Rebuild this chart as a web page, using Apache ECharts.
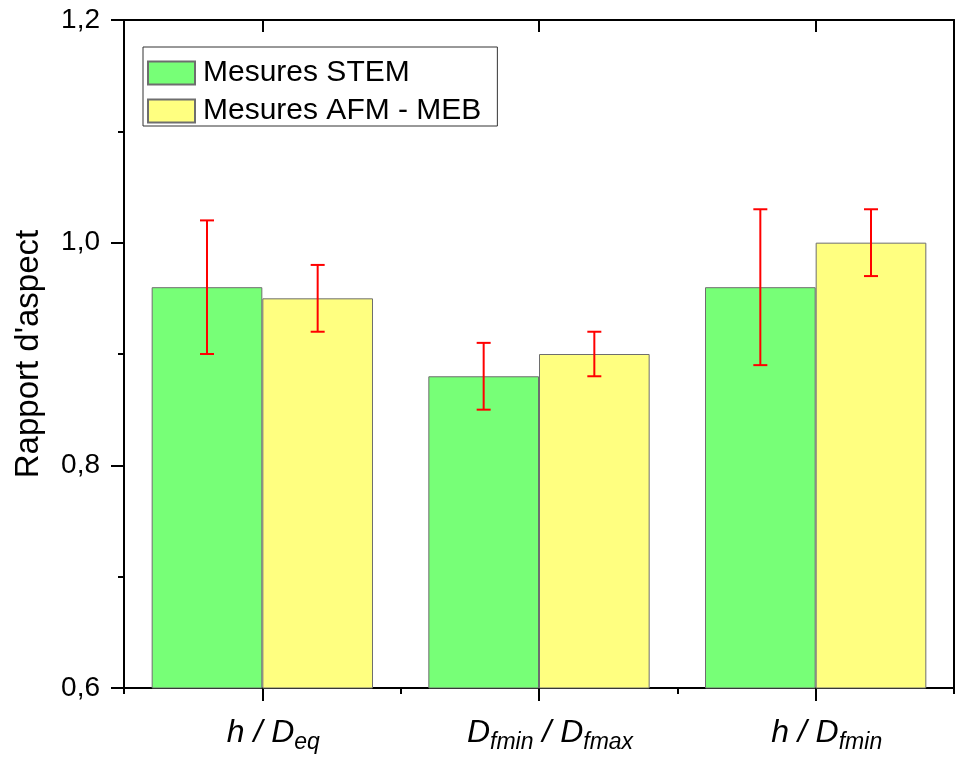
<!DOCTYPE html>
<html>
<head>
<meta charset="utf-8">
<script src="https://cdn.jsdelivr.net/npm/echarts@6/dist/echarts.min.js"></script>
<style>html,body{margin:0;padding:0;background:#fff}#c{width:955px;height:763px}</style>
</head>
<body>
<div id="c"></div>
<script>
const categories = ['h / Deq', 'Dfmin / Dfmax', 'h / Dfmin'];
const seriesNames = ['Mesures STEM', 'Mesures AFM - MEB'];
const stemValues = [0.96, 0.88, 0.96];
const stemLow = [0.90, 0.85, 0.89];
const stemHigh = [1.02, 0.91, 1.03];
const afmValues = [0.95, 0.90, 1.00];
const afmLow = [0.92, 0.88, 0.97];
const afmHigh = [0.98, 0.92, 1.03];
const yTicks = [0.6, 0.8, 1.0, 1.2];

const labelRich = {
  'h / Deq': '{m|h / D}{s|eq}',
  'Dfmin / Dfmax': '{m|D}{s|fmin}{m| / D}{s|fmax}',
  'h / Dfmin': '{m|h / D}{s|fmin}'
};

const FONT = '"Liberation Sans", Arial, sans-serif';
const chart = echarts.init(document.getElementById('c'), null, {renderer: 'canvas'});

function errData(low, high) {
  return categories.map((c, i) => [i, low[i], high[i]]);
}
function errRender(offsetFrac) {
  return function (params, api) {
    const i = api.value(0);
    const band = api.size([1, 0])[0];
    const p1 = api.coord([i, api.value(1)]);
    const p2 = api.coord([i, api.value(2)]);
    const x = p1[0] + offsetFrac * band;
    const cap = 7;
    const style = {stroke: '#ff0000', lineWidth: 2};
    return {
      type: 'group',
      children: [
        {type: 'line', shape: {x1: x, y1: p1[1], x2: x, y2: p2[1]}, style},
        {type: 'line', shape: {x1: x - cap, y1: p1[1], x2: x + cap, y2: p1[1]}, style},
        {type: 'line', shape: {x1: x - cap, y1: p2[1], x2: x + cap, y2: p2[1]}, style}
      ]
    };
  };
}

const option = {
  animation: false,
  backgroundColor: '#fff',
  textStyle: {fontFamily: FONT},
  grid: {left: 124, right: 1, top: 20, bottom: 75, containLabel: false},
  legend: {
    left: 143, top: 47,
    orient: 'vertical',
    data: seriesNames,
    itemWidth: 47, itemHeight: 23, itemGap: 8,
    padding: [11, 16, 0, 4],
    borderColor: '#333', borderWidth: 1,
    backgroundColor: '#fff',
    icon: 'rect',
    textStyle: {fontSize: 30, lineHeight: 24, color: '#000', fontFamily: FONT, padding: [2, 0, 0, 3]}
  },
  xAxis: [
    {
      type: 'category', data: categories, position: 'bottom',
      axisLine: {show: true, lineStyle: {color: '#000', width: 2}},
      axisTick: {show: true, alignWithLabel: true, length: 13, lineStyle: {color: '#000', width: 2}},
      axisLabel: {
        show: true,
        margin: 25,
        padding: [0, 0, 0, 22],
        formatter: v => labelRich[v],
        rich: {
          m: {fontSize: 32, fontStyle: 'italic', color: '#000', fontFamily: FONT},
          s: {fontSize: 23, fontStyle: 'italic', color: '#000', fontFamily: FONT, padding: [18, 0, 0, 0]}
        }
      }
    },
    {
      type: 'category', data: categories, position: 'bottom',
      axisLine: {show: false},
      axisTick: {show: true, length: 6, lineStyle: {color: '#000', width: 2}},
      axisLabel: {show: false}
    },
    {
      type: 'category', data: categories, position: 'top',
      axisLine: {show: true, lineStyle: {color: '#000', width: 2}},
      axisTick: {show: true, alignWithLabel: true, inside: true, length: 12, lineStyle: {color: '#000', width: 2}},
      axisLabel: {show: false}
    }
  ],
  yAxis: [
    {
      type: 'value', min: yTicks[0], max: yTicks[yTicks.length - 1], interval: 0.2,
      name: "Rapport d'aspect", nameLocation: 'middle', nameGap: 79,
      nameTextStyle: {fontSize: 33, color: '#000', fontFamily: FONT},
      axisLine: {show: true, lineStyle: {color: '#000', width: 2}},
      axisTick: {show: true, inside: false, length: 13, lineStyle: {color: '#000', width: 2}},
      minorTick: {show: true, splitNumber: 2, length: 6, lineStyle: {color: '#000', width: 2}},
      splitLine: {show: false},
      axisLabel: {show: true, fontSize: 28, color: '#000', margin: 24, formatter: v => v.toFixed(1).replace('.', ',')}
    },
    {
      type: 'value', min: yTicks[0], max: yTicks[yTicks.length - 1], interval: 0.2, position: 'right',
      axisLine: {show: true, lineStyle: {color: '#000', width: 2}},
      axisTick: {show: false}, axisLabel: {show: false}, splitLine: {show: false}
    }
  ],
  series: [
    {
      name: seriesNames[0], type: 'bar', data: stemValues,
      barGap: '0%', barCategoryGap: '20%',
      itemStyle: {color: '#77ff77', borderColor: '#6e6e6e', borderWidth: 1}
    },
    {
      name: seriesNames[1], type: 'bar', data: afmValues,
      barGap: '0%', barCategoryGap: '20%',
      itemStyle: {color: '#ffff80', borderColor: '#6e6e6e', borderWidth: 1}
    },
    {
      type: 'custom', renderItem: errRender(-0.2), data: errData(stemLow, stemHigh),
      encode: {x: 0, y: [1, 2]}, z: 5, silent: true
    },
    {
      type: 'custom', renderItem: errRender(0.2), data: errData(afmLow, afmHigh),
      encode: {x: 0, y: [1, 2]}, z: 5, silent: true
    }
  ]
};
chart.setOption(option);
</script>
</body>
</html>
